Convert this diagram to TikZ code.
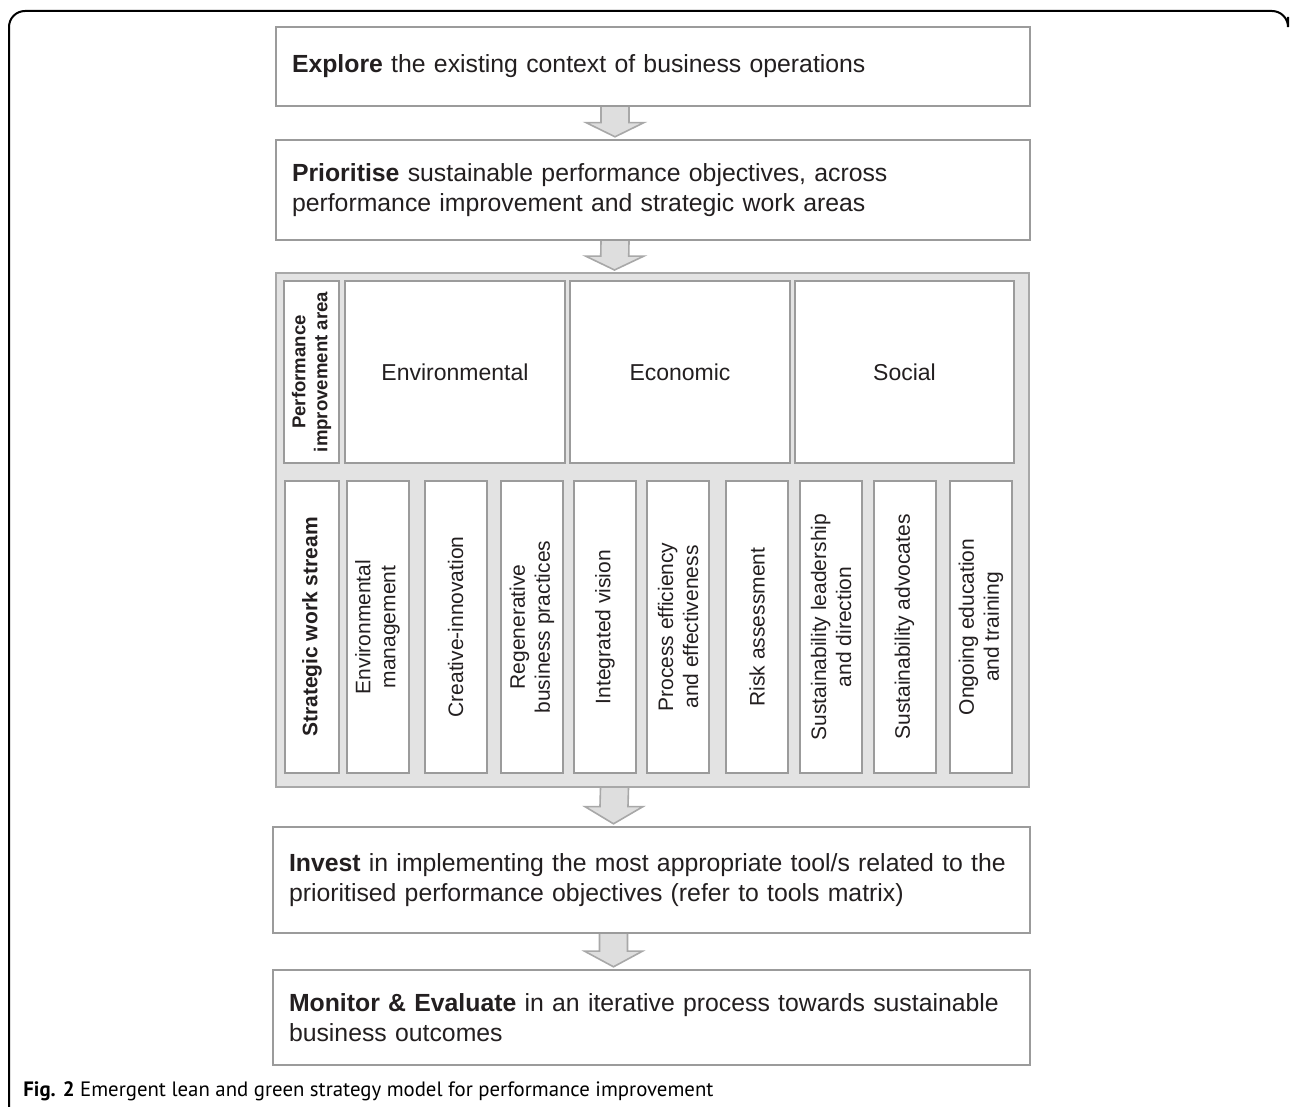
\documentclass[tikz,border=0pt]{standalone}
\usepackage{fontspec}
\setmainfont{Liberation Sans}
\newfontfamily\capfont{PT Sans}
\usepackage{tikz}
\usetikzlibrary{calc, positioning}
\definecolor{boxGrey}{RGB}{155,155,155}
\definecolor{panelGrey}{RGB}{227,227,227}
\definecolor{panelEdge}{RGB}{168,168,168}
\definecolor{arrowGrey}{RGB}{222,222,222}
\definecolor{textDark}{RGB}{35,31,32}

% block arrow hanging below one box and pointing at the next
\newcommand{\flowarrow}[2]{%
  \coordinate (s) at ($(#1.south)+(-38,0)$);
  \coordinate (t) at ($(#2.north)+(-38,-2)$);
  \coordinate (m) at ($(s)!0.52!(t)$);
  \draw[blockarrow] ($(s)+(-14,0)$) -- ($(m)+(-14,0)$) -- ($(m)+(-29,0)$) -- (t)
    -- ($(m)+(29,0)$) -- ($(m)+(14,0)$) -- ($(s)+(14,0)$);
}

\begin{document}
\begin{tikzpicture}[x=0.5pt, y=-0.5pt]
        \tikzstyle{stage} = [rectangle, draw=boxGrey, line width=1.2pt, fill=white, text=textDark, align=left, text width=361pt, inner xsep=8pt, minimum width=377pt, font=\fontsize{12.4}{15}\selectfont]
        \tikzstyle{area} = [rectangle, draw=boxGrey, line width=1pt, fill=white, text=textDark, inner sep=0pt, minimum height=91pt, font=\fontsize{11.5}{14}\selectfont]
        \tikzstyle{stream} = [rectangle, draw=boxGrey, line width=1pt, fill=white, text=textDark, inner sep=0pt, rotate=90, align=center, minimum width=146pt, minimum height=31pt, font=\fontsize{10.5}{12.5}\selectfont]
        \tikzstyle{blockarrow} = [draw=panelEdge, line width=0.8pt, fill=arrowGrey, line join=miter]
        \useasboundingbox (0,0) rectangle (1290,1107);

        % outer frame
        \draw[black, line width=1pt, rounded corners=8pt] (9,1107) -- (9,11) -- (1288,11) -- (1288,17);

        % stages of the model
        \node[stage, minimum height=39.5pt] (explore) at (653,66.5) {\textbf{Explore} the existing context of business operations};
        \node[stage, minimum height=50pt] (prioritise) at (653,190) {\textbf{Prioritise} sustainable performance objectives, across\\performance improvement and strategic work areas};
        \node[rectangle, draw=panelEdge, line width=1pt, fill=panelGrey, minimum width=376.5pt, minimum height=257pt, inner sep=0pt] (panel) at (652.5,530) {};
        \node[stage, minimum height=53pt, minimum width=378.5pt, text width=362.5pt] (invest) at (651.5,880) {\textbf{Invest} in implementing the most appropriate tool/s related to the\\prioritised performance objectives (refer to tools matrix)};
        \node[stage, minimum height=47.5pt, minimum width=378.5pt, text width=362.5pt] (monitor) at (651.5,1017.5) {\textbf{Monitor \& Evaluate} in an iterative process towards sustainable\\business outcomes};

        % performance improvement areas
        \node[area, rotate=90, minimum width=91pt, minimum height=27.5pt, align=center, font=\bfseries\fontsize{9.3}{11}\selectfont] (pia) at (311.5,372) {Performance\\improvement area};
        \node[area, minimum width=110pt] (env) at (455,372) {Environmental};
        \node[area, minimum width=110pt] (eco) at (680,372) {Economic};
        \node[area, minimum width=109.5pt] (soc) at (904.5,372) {Social};

        % strategic work streams
        \node[stream, minimum height=27pt, font=\bfseries\fontsize{10.5}{12.5}\selectfont] (sws) at (312,627) {Strategic work stream};
        \foreach \cx/\id/\txt in {377.5/envman/{Environmental\\management}, 455.5/creative/{Creative-innovation},
            532/regen/{Regenerative\\business practices}, 605/vision/{Integrated vision},
            678/process/{Process efficiency\\and effectiveness}, 757/risk/{Risk assessment},
            831/leader/{Sustainability leadership\\and direction}, 904.5/advocate/{Sustainability advocates},
            981/educate/{Ongoing education\\and training}}
            \node[stream] (\id) at (\cx,627) {\txt};

        \flowarrow{explore}{prioritise}
        \flowarrow{prioritise}{panel}
        \flowarrow{panel}{invest}
        \flowarrow{invest}{monitor}

        % caption
        \node[anchor=base west, inner sep=0pt, font=\capfont\fontsize{10.4}{13}\selectfont] (caption) at (23,1096) {\textbf{Fig. 2} Emergent lean and green strategy model for performance improvement};
    \end{tikzpicture}
\end{document}
